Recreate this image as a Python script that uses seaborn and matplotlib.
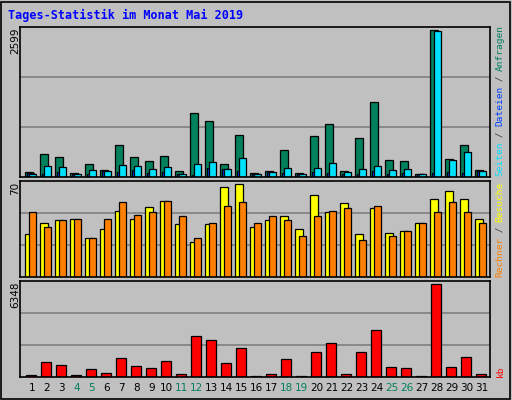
import numpy as np
import pandas as pd
import matplotlib
matplotlib.use("Agg")
import matplotlib.pyplot as plt
import seaborn as sns
from matplotlib.patches import Rectangle

days = list(range(1, 32))
anfragen = [94,412,359,76,235,129,570,359,288,376,112,1135,994,235,747,76,112,482,76,729,941,112,694,1329,306,288,59,2599,323,570,129]
dateien = [65,59,94,59,59,112,94,129,76,94,59,41,165,147,112,59,94,76,59,94,76,59,59,112,59,76,59,76,94,76,112]
seiten = [59,200,182,59,129,112,218,200,147,182,59,235,270,147,341,59,94,165,59,165,253,94,147,200,129,147,59,2581,306,447,112]
besuche = [32.7,41,42.6,44,29.7,36.5,49.5,44,52.5,57,39.6,26.6,39.6,67.7,70,38,42.6,45.7,36.5,61.6,48.7,55.5,32.7,51.7,33.5,35,40.3,58.6,64.7,58.6,43.4]
rechner = [48.7,38,42.6,43.4,29.7,43.4,56.3,46.4,48.7,57,45.7,29.7,41,53.3,56.3,40.3,45.7,42.6,31.2,45.7,49.5,51.7,28.2,53.3,31.2,35,41,48.7,56.3,48.7,41]
kb = [162,993,854,162,577,300,1270,785,646,1062,231,2793,2516,923,1962,92,231,1200,92,1685,2308,231,1685,3209,716,646,92,6348,716,1339,231]
weekend = [4,5,11,12,18,19,25,26]
max_labels = ["2599", "70", "6348"]

sns.set_style("white")
plt.rcParams['font.family'] = ['DejaVu Sans Mono', 'DejaVu Sans']
BG = "#C0C0C0"
fig = plt.figure(figsize=(5.12, 4.0), dpi=100, facecolor=BG)
fig.patches.append(Rectangle((0.002, 0.002), 0.994, 0.994, transform=fig.transFigure,
                             fill=False, edgecolor="black", lw=1.2))

W, H = 512, 400
def rect(x0, y0, x1, y1):
    return [x0 / W, 1 - y1 / H, (x1 - x0) / W, (y1 - y0) / H]

axs = [fig.add_axes(rect(20, 27, 490, 177)),
       fig.add_axes(rect(20, 181, 490, 277)),
       fig.add_axes(rect(20, 281, 490, 377))]
ylims = [2652, 72.3, 6560]
d = np.array(days, dtype=float)

def bars(ax, off, vals, width, color):
    sns.barplot(x=d + off, y=vals, native_scale=True, width=width, color=color,
                saturation=1, edgecolor="black", linewidth=0.9, errorbar=None, ax=ax)

bars(axs[0], -0.19, anfragen, 0.49, "#00805C")
bars(axs[0], -0.06, dateien, 0.49, "#0040FF")
bars(axs[0], 0.07, seiten, 0.49, "#00E0FF")
bars(axs[1], -0.19, besuche, 0.49, "#FFFF00")
bars(axs[1], 0.07, rechner, 0.49, "#FF8000")
bars(axs[2], -0.04, kb, 0.71, "#FF0000")

for ax, yl in zip(axs, ylims):
    ax.set_facecolor(BG)
    ax.set_xlim(0.22, 31.55)
    ax.set_ylim(0, yl)
    for f in (1/3, 2/3):
        ax.axhline(yl * f, color="#808080", lw=1.2, zorder=0)
    ax.set_xticks([]); ax.set_yticks([])
    ax.set_xlabel(""); ax.set_ylabel("")
    for s in ax.spines.values():
        s.set_color("black"); s.set_linewidth(1.2)
    ax.set_axisbelow(True)

for day in days:
    x = 31.7 + (day - 1) * 15.0
    fig.text(x / W, 1 - 388 / H, str(day), ha="center", va="center", fontsize=7.5,
             color="#00805C" if day in weekend else "black", family="DejaVu Sans")

fig.text(8 / W, 1 - 15 / H, "Tages-Statistik im Monat Mai 2019", ha="left", va="center",
         fontsize=8.5, fontweight="bold", color="#0000FF")

for lab, ytop in zip(max_labels, [28, 182, 282]):
    fig.text(15 / W, 1 - ytop / H, lab, rotation=90, ha="center", va="top",
             fontsize=7.5, color="black", family="DejaVu Sans")

def vlabel(pieces, ybottom, step=5.55):
    idx = 0
    for txt, col in pieces:
        fig.text(500 / W, 1 - (ybottom - idx * step) / H, txt, rotation=90,
                 ha="center", va="bottom", fontsize=6.8, color=col)
        idx += len(txt)

vlabel([("Seiten", "#00E0FF"), (" / ", "#404040"), ("Dateien", "#0040FF"),
        (" / ", "#404040"), ("Anfragen", "#00805C")], 176)
vlabel([("Rechner", "#FF8000"), (" / ", "#404040"), ("Besuche", "#FFFF00")], 277)
vlabel([("kb", "#FF0000")], 377)

fig.savefig("out.png", dpi=100, facecolor=BG)
